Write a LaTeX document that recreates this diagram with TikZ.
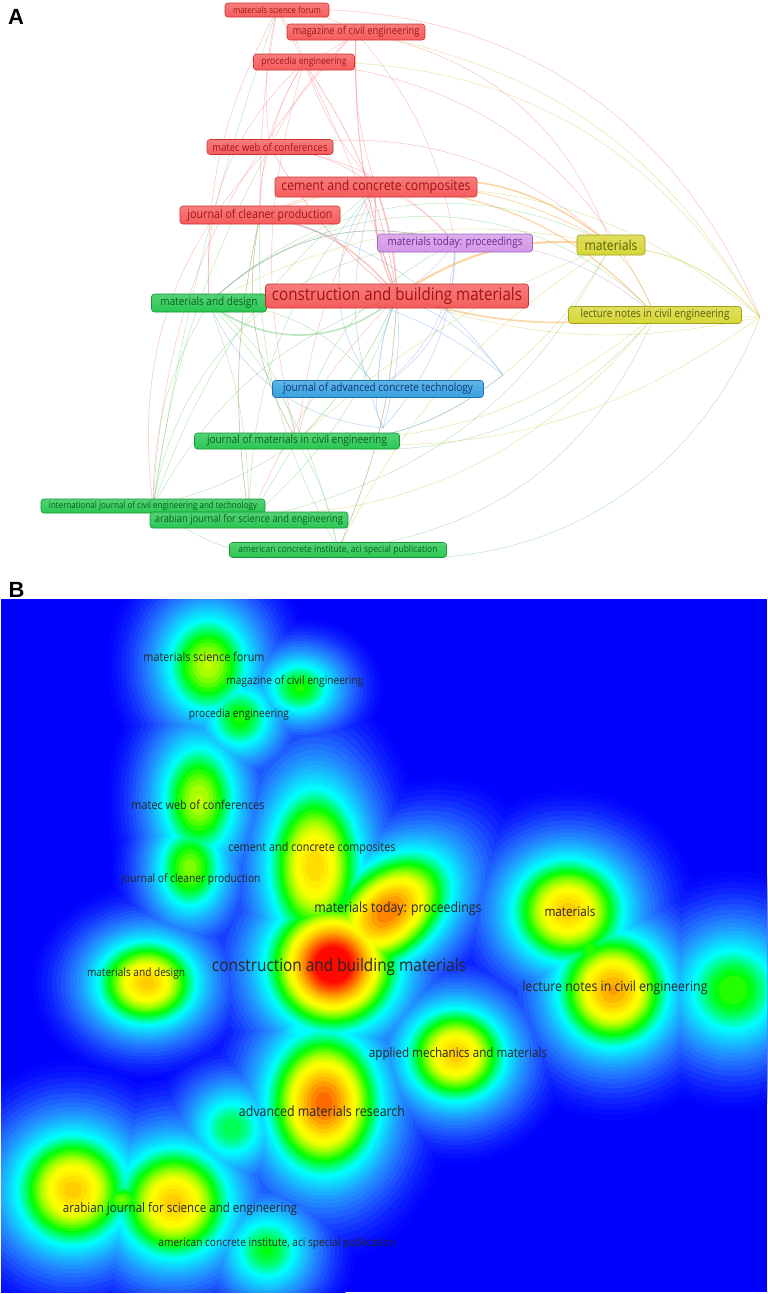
\documentclass[tikz,border=0pt]{standalone}
\usepackage{fontspec}
\usepackage{graphicx}
\setmainfont{Open Sans}
\newfontfamily\vos[FakeStretch=0.88]{Open Sans}
\newfontfamily\lab{Liberation Sans}
\usetikzlibrary{backgrounds}
\newcommand\fw[2]{\resizebox{#1pt}{!}{\vos #2}}
\definecolor{vred}{RGB}{245,80,80}
\definecolor{vredd}{RGB}{205,50,50}
\definecolor{vredt}{RGB}{160,20,20}
\definecolor{vgreen}{RGB}{25,195,70}
\definecolor{vgreend}{RGB}{20,150,50}
\definecolor{vgreent}{RGB}{10,95,30}
\definecolor{vyel}{RGB}{212,212,40}
\definecolor{vyeld}{RGB}{160,160,25}
\definecolor{vyelt}{RGB}{95,95,10}
\definecolor{vblue}{RGB}{40,155,222}
\definecolor{vblued}{RGB}{30,110,180}
\definecolor{vbluet}{RGB}{15,55,115}
\definecolor{vpur}{RGB}{208,145,230}
\definecolor{vpurd}{RGB}{160,100,190}
\definecolor{vpurt}{RGB}{110,40,140}
\definecolor{lred}{RGB}{248,120,120}
\definecolor{lgreen}{RGB}{110,200,110}
\definecolor{lyel}{RGB}{205,205,80}
\definecolor{lblue}{RGB}{110,165,230}
\definecolor{lpur}{RGB}{200,150,230}
\definecolor{lorange}{RGB}{250,185,105}
\definecolor{hblue}{RGB}{0,0,255}
\tikzset{
  vbox/.style={rounded corners=3pt, draw=#1d, top color=#1!80!white, bottom color=#1, fill opacity=0.93, text opacity=1, inner sep=0pt, line width=0.6pt},
  eR/.style={draw=lred, opacity=0.45, line width=0.5pt},
  eG/.style={draw=lgreen, opacity=0.45, line width=0.5pt},
  eY/.style={draw=lyel, opacity=0.5, line width=0.5pt},
  eB/.style={draw=lblue, opacity=0.5, line width=0.5pt},
  eP/.style={draw=lpur, opacity=0.5, line width=0.5pt},
  eO/.style={draw=lorange, opacity=0.6, line width=0.8pt},
  hlab/.style={inner sep=0pt, text=black!85},
  plab/.style={inner sep=0pt, font=\lab\bfseries\fontsize{22}{22}\selectfont}
}
\begin{document}
\begin{tikzpicture}[x=1pt,y=-1pt]
\useasboundingbox (0,0) rectangle (768,1294);
\node[plab] (labA) at (16,17) {A};
\node[plab] (labB) at (16.5,589.5) {B};

% ---------- panel A nodes ----------
\node[vbox=vred, minimum width=104pt, minimum height=14pt, text=vredt] (msf) at (277,10) {\fw{88}{materials science forum}};
\node[vbox=vred, minimum width=138pt, minimum height=16pt, text=vredt] (mag) at (356,32) {\fw{127}{magazine of civil engineering}};
\node[vbox=vred, minimum width=101pt, minimum height=16pt, text=vredt] (proc) at (304,62) {\fw{85}{procedia engineering}};
\node[vbox=vred, minimum width=126pt, minimum height=15pt, text=vredt] (matec) at (270,147) {\fw{115}{matec web of conferences}};
\node[vbox=vred, minimum width=202pt, minimum height=20pt, text=vredt] (cem) at (376,187) {\fw{189}{cement and concrete composites}};
\node[vbox=vred, minimum width=160pt, minimum height=18pt, text=vredt] (jcp) at (260,215) {\fw{145}{journal of cleaner production}};
\node[vbox=vpur, minimum width=155pt, minimum height=18pt, text=vpurt] (mtp) at (455,243) {\fw{135}{materials today: proceedings}};
\node[vbox=vyel, minimum width=68pt, minimum height=20pt, text=vyelt] (mat) at (611,245) {\fw{53}{materials}};
\node[vbox=vgreen, minimum width=115pt, minimum height=18pt, text=vgreent] (mad) at (209,303) {\fw{97}{materials and design}};
\node[vbox=vred, minimum width=263pt, minimum height=24pt, text=vredt] (cbm) at (397,296) {\fw{250}{construction and building materials}};
\node[vbox=vyel, minimum width=173pt, minimum height=17pt, text=vyelt] (lec) at (655,315) {\fw{149}{lecture notes in civil engineering}};
\node[vbox=vblue, minimum width=211pt, minimum height=17pt, text=vbluet] (jact) at (378,389) {\fw{190}{journal of advanced concrete technology}};
\node[vbox=vgreen, minimum width=205pt, minimum height=16pt, text=vgreent] (jom) at (297,441) {\fw{180}{journal of materials in civil engineering}};
\node[vbox=vgreen, minimum width=224pt, minimum height=14pt, text=vgreent] (ijc) at (153,506) {\fw{208}{international journal of civil engineering and technology}};
\node[vbox=vgreen, minimum width=198pt, minimum height=16pt, text=vgreent] (ajse) at (249,520) {\fw{188}{arabian journal for science and engineering}};
\node[vbox=vgreen, minimum width=217pt, minimum height=15pt, text=vgreent] (aci) at (338,550) {\fw{199}{american concrete institute, aci special publication}};
\coordinate (hy) at (760,317);
\coordinate (hb1) at (383,428);
\coordinate (hb2) at (503,375);

\begin{pgfonlayer}{background}
% red
\draw[eR, line width=1.6pt] (cem.center) to[bend left=8] (cbm.center);
\draw[eR, line width=1.2pt] (cem.center) to[bend right=15] (cbm.center);
\draw[eR, line width=1.4pt] (jcp.center) to[bend left=20] (cbm.center);
\draw[eR, line width=1pt] (mag.center) to[bend right=10] (cbm.center);
\draw[eR, line width=0.8pt] (proc.center) to[bend left=12] (cbm.center);
\draw[eR, line width=0.8pt] (matec.center) to[bend right=10] (cbm.center);
\draw[eR] (msf.center) to[bend left=5] (cbm.center);
\draw[eR] (mag.center) to[bend right=10] (cem.center);
\draw[eR] (proc.center) to[bend right=10] (cem.center);
\draw[eR] (matec.center) to[bend left=15] (cem.center);
\draw[eR] (msf.center) to[bend right=10] (matec.center);
\draw[eR] (msf.center) to[bend left=10] (proc.center);
\draw[eR] (msf.center) to[bend left=15] (mag.center);
\draw[eR] (mag.center) to[bend left=10] (proc.center);
\draw[eR] (proc.center) to[bend right=10] (matec.center);
\draw[eR] (mag.center) to[bend right=10] (matec.center);
\draw[eR] (matec.center) to[bend right=10] (jcp.center);
\draw[eR] (jcp.center) to[bend left=10] (cem.center);
\draw[eR] (proc.center) to[bend right=15] (jcp.center);
\draw[eR] (msf.center) to[bend right=5] (jcp.center);
\draw[eR] (msf.center) to[bend right=15] (mad.center);
\draw[eR] (mag.center) to[bend left=30] (mat.center);
\draw[eR] (msf.center) to[bend left=35] (hy);
\draw[eR] (proc.center) to[bend left=30] (lec.center);
\draw[eR] (matec.center) to[bend left=25] (mat.center);
\draw[eR] (mag.center) to[bend right=20] (ijc.center);
\draw[eR] (proc.center) to[bend right=15] (jom.center);
\draw[eR] (jcp.center) to[bend right=10] (ajse.center);
\draw[eR] (cem.center) to[bend right=10] (jom.center);
\draw[eR] (cbm.center) to[bend left=10] (aci.center);
\draw[eR] (cbm.center) to[bend right=10] (ajse.center);
\draw[eR] (matec.center) to[bend left=20] (mtp.center);
\draw[eR] (mag.center) to[bend left=15] (mtp.center);
\draw[eR] (proc.center) to[bend right=25] (mad.center);
\draw[eR] (cem.center) to[bend left=15] (mtp.center);
\draw[eR] (jcp.center) to[bend right=20] (jom.center);
\draw[eR] (matec.center) to[bend right=25] (ijc.center);
% orange
\draw[eO, line width=2.2pt] (cbm.center) to[bend left=20] (mat.center);
\draw[eO, line width=1.6pt] (cem.center) to[bend left=25] (mat.center);
\draw[eO, line width=1.2pt] (cem.center) to[bend left=22] (lec.center);
\draw[eO, line width=1.6pt] (cbm.center) to[bend right=12] (lec.center);
\draw[eO] (jcp.center) to[bend left=25] (mat.center);
% green
\draw[eG, line width=1.6pt] (mad.center) to[bend right=40] (cbm.center);
\draw[eG, line width=0.8pt] (mad.center) to[bend left=30] (mtp.center);
\draw[eG] (jom.center) to[bend left=25] (mtp.center);
\draw[eG] (mad.center) to[bend left=20] (jom.center);
\draw[eG] (mad.center) to[bend right=15] (ijc.center);
\draw[eG] (mad.center) to[bend left=10] (ajse.center);
\draw[eG] (mad.center) to[bend left=15] (aci.center);
\draw[eG, line width=0.8pt] (jom.center) to[bend right=10] (cbm.center);
\draw[eG] (jom.center) to[bend left=10] (ijc.center);
\draw[eG] (jom.center) to (ajse.center);
\draw[eG] (jom.center) to[bend left=10] (aci.center);
\draw[eG] (ijc.center) to[bend left=20] (cbm.center);
\draw[eG] (ajse.center) to[bend right=15] (cbm.center);
\draw[eG] (aci.center) to[bend right=10] (cbm.center);
\draw[eG] (ijc.center) to[bend left=15] (cem.center);
\draw[eG] (ijc.center) to[bend left=10] (matec.center);
\draw[eG] (ajse.center) to[bend left=10] (jcp.center);
\draw[eG] (ijc.center) to[bend left=5] (msf.center);
\draw[eG] (jom.center) to[bend right=30] (lec.center);
\draw[eG] (aci.center) to[bend right=30] (lec.center);
\draw[eG] (ajse.center) to[bend right=25] (mat.center);
\draw[eG] (mad.center) to[bend left=35] (mat.center);
\draw[eG] (mad.center) to[bend left=25] (jact.center);
\draw[eG] (jom.center) to[bend right=20] (hb2);
\draw[eG] (aci.center) to[bend right=40] (hy);
\draw[eG] (ijc.center) to[bend left=40] (mtp.center);
\draw[eG] (mad.center) to[bend left=45] (lec.center);
\draw[eG] (ajse.center) to[bend left=20] (cem.center);
\draw[eG] (aci.center) to[bend left=15] (jcp.center);
\draw[eG] (jom.center) to[bend left=20] (jcp.center);
\draw[eG] (ijc.center) to[bend right=25] (aci.center);
% blue
\draw[eB, line width=0.8pt] (jact.center) to[bend left=10] (cbm.center);
\draw[eB] (jact.center) to[bend right=20] (hb1);
\draw[eB] (hb1) to[bend right=10] (cbm.center);
\draw[eB] (hb1) to[bend left=20] (cem.center);
\draw[eB] (hb2) to[bend right=15] (cbm.center);
\draw[eB] (hb2) to[bend right=25] (mad.center);
\draw[eB] (jact.center) to[bend right=30] (mtp.center);
\draw[eB] (hb1) to[bend left=30] (mad.center);
\draw[eB] (jact.center) to[bend left=40] (cem.center);
\draw[eB] (hb2) to[bend right=20] (jcp.center);
\draw[eB] (hb1) to[bend right=20] (mtp.center);
\draw[eB] (hb2) to[bend left=20] (jom.center);
% yellow
\draw[eY, line width=0.8pt] (mat.center) to[bend left=10] (lec.center);
\draw[eY, line width=1pt] (mat.center) to[bend left=20] (hy);
\draw[eY] (lec.center) to (hy);
\draw[eY] (mat.center) to[bend right=10] (jom.center);
\draw[eY] (mat.center) to[bend right=15] (aci.center);
\draw[eY] (mat.center) to[bend left=10] (hb2);
\draw[eY] (lec.center) to[bend left=20] (jom.center);
\draw[eY] (hy) to[bend right=25] (mag.center);
\draw[eY] (hy) to[bend right=20] (cem.center);
\draw[eY] (hy) to[bend left=20] (jom.center);
\draw[eY] (hy) to[bend left=15] (cbm.center);
\draw[eY] (lec.center) to[bend left=30] (ijc.center);
\draw[eY] (mat.center) to[bend right=20] (mad.center);
\draw[eY] (hy) to[bend right=30] (proc.center);
% purple
\draw[eP] (mtp.center) to[bend left=10] (cbm.center);
\draw[eP] (mtp.center) to[bend left=20] (lec.center);
\draw[eP] (mtp.center) to[bend right=30] (mad.center);
\draw[eP] (mtp.center) to[bend left=25] (jact.center);
\end{pgfonlayer}

% ---------- panel B density map ----------
\begin{scope}
\clip (1,599) rectangle (767,1292);
\fill[hblue] (1,599) rectangle (767,1292);
\foreach \lv/\cr/\cg/\cb in {0.055/2/6/255, 0.061/5/14/255, 0.068/9/24/255, 0.076/13/36/255,
  0.085/18/50/255, 0.095/23/65/255, 0.106/27/81/255, 0.118/30/97/255, 0.131/32/113/255,
  0.145/33/129/255, 0.159/32/144/255, 0.173/30/158/255, 0.187/27/173/255, 0.201/23/188/255,
  0.215/19/202/255, 0.229/14/216/255, 0.243/9/229/255, 0.257/4/242/255, 0.270/0/253/255,
  0.285/0/255/225, 0.300/0/255/190, 0.315/0/255/155, 0.330/0/255/120, 0.345/0/255/85,
  0.360/0/255/50, 0.375/0/255/15, 0.395/35/255/0, 0.420/80/255/0, 0.445/125/255/0,
  0.470/165/255/0, 0.495/200/255/0, 0.520/228/255/0, 0.545/248/255/0, 0.570/255/250/0,
  0.600/255/238/0, 0.630/255/222/0, 0.660/255/205/0, 0.700/255/182/0, 0.740/255/158/0,
  0.780/255/132/0, 0.820/255/106/0, 0.860/255/80/0, 0.900/255/55/0, 0.940/255/30/0,
  0.980/255/8/0}{
  \definecolor{lvc}{RGB}{\cr,\cg,\cb}
  \foreach \bx/\by/\ax/\ay/\bp/\rt in {208/665/55/65/0.50/0, 300/688/50/42/0.40/0,
    240/718/48/50/0.40/0, 199/800/50/75/0.50/0, 190/868/45/60/0.46/0,
    315/866/52/88/0.66/0, 388/912/72/48/0.82/41,
    333/965/55/55/1.15/0, 147/983/55/47/0.68/0, 568/911/62/58/0.68/0, 590/950/25/30/0.42/0,
    613/990/58/60/0.75/0, 733/990/70/70/0.42/0, 456/1055/55/52/0.68/0, 300/1030/35/30/0.28/0,
    324/1103/55/70/0.85/0, 232/1128/55/55/0.36/0, 73/1190/62/62/0.68/0, 122/1200/35/25/0.45/0,
    174/1203/62/62/0.68/0, 267/1250/55/55/0.38/0}{
    \pgfmathsetmacro\kk{(\bp/\lv)^(2/3)-1}
    \ifdim\kk pt>0pt
      \pgfmathsetmacro\rx{\ax*sqrt(\kk)}
      \pgfmathsetmacro\ry{\ay*sqrt(\kk)}
      \fill[lvc, rotate around={\rt:(\bx,\by)}] (\bx,\by) ellipse [x radius=\rx pt, y radius=\ry pt];
    \fi
  }
}
\end{scope}

% ---------- panel B labels ----------
\node[hlab] (bmsf) at (204,657) {\fw{121}{materials science forum}};
\node[hlab] (bmag) at (295,681) {\fw{137}{magazine of civil engineering}};
\node[hlab] (bproc) at (239,714) {\fw{100}{procedia engineering}};
\node[hlab] (bmatec) at (198,805) {\fw{133}{matec web of conferences}};
\node[hlab] (bcem) at (312,848) {\fw{167}{cement and concrete composites}};
\node[hlab] (bjcp) at (191,879) {\fw{139}{journal of cleaner production}};
\node[hlab] (bmtp) at (398,909) {\fw{167}{materials today: proceedings}};
\node[hlab] (bmat) at (570,911) {\fw{51}{materials}};
\node[hlab] (bcbm) at (339,967) {\fw{254}{construction and building materials}};
\node[hlab] (bmad) at (136,974) {\fw{98}{materials and design}};
\node[hlab] (blec) at (615,988) {\fw{185}{lecture notes in civil engineering}};
\node[hlab] (bamm) at (458,1054) {\fw{178}{applied mechanics and materials}};
\node[hlab] (bamr) at (322,1111) {\fw{166}{advanced materials research}};
\node[hlab] (bajse) at (180,1209) {\fw{234}{arabian journal for science and engineering}};
\node[hlab] (baci) at (277,1243) {\fw{237}{american concrete institute, aci special publication}};
\end{tikzpicture}
\end{document}
